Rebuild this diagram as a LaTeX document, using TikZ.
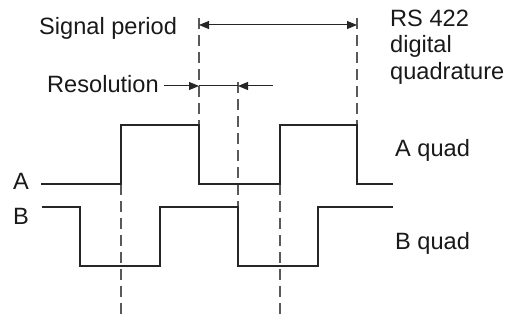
\documentclass[tikz,border=0pt]{standalone}
\usepackage{fontspec}
\setmainfont{Liberation Sans}
\usetikzlibrary{arrows.meta}
\begin{document}
\begin{tikzpicture}[x=1pt,y=-1pt,
 sig/.style={line width=2pt, line join=miter, color=black!85},
 guide/.style={line width=1.3pt, color=black!65, dash pattern=on 11pt off 6pt},
 dim/.style={line width=1pt, color=black!85},
 tipr/.style={-{Triangle[length=10pt,width=8pt]}},
 tipb/.style={{Triangle[length=10pt,width=8pt]}-{Triangle[length=10pt,width=8pt]}},
 lbl/.style={inner sep=0pt, anchor=base west, text=black!90, font=\fontsize{23.6}{26.5}\selectfont}]
\useasboundingbox (0,0) rectangle (507,320);
% labels
\node[lbl] (sp) at (39,35) {Signal period};
\node[lbl] (res) at (47,93) {Resolution};
\node[lbl] (rs1) at (390,27) {RS 422};
\node[lbl] (rs2) at (390,53) {digital};
\node[lbl] (rs3) at (390,80) {quadrature};
\node[lbl] (aq) at (395,157) {A quad};
\node[lbl] (bq) at (395,250) {B quad};
\node[lbl] (la) at (13,190) {A};
\node[lbl] (lb) at (13,225) {B};
% guide lines
\draw[guide] (199,18) -- (199,125);
\draw[guide] (238,82) -- (238,207);
\draw[guide] (357,18) -- (357,125);
\draw[guide] (121,184) -- (121,320);
\draw[guide] (280,184) -- (280,320);
% signals
\draw[sig] (41,184) -- (121,184) -- (121,125) -- (199,125) -- (199,184) -- (280,184) -- (280,125) -- (357,125) -- (357,184) -- (393,184);
\draw[sig] (42,207) -- (80,207) -- (80,266) -- (160,266) -- (160,207) -- (238,207) -- (238,266) -- (318,266) -- (318,207) -- (393,207);
% dimension arrows
\coordinate (p1) at (199,25);
\coordinate (p2) at (357,25);
\draw[dim,tipb] (p1) -- (p2);
\coordinate (r0) at (164,86);
\coordinate (r1) at (199,86);
\coordinate (r2) at (238,86);
\coordinate (r3) at (273,86);
\draw[dim,tipr] (r0) -- (r1);
\draw[dim] (r1) -- (r2);
\draw[dim,tipr] (r3) -- (r2);
\end{tikzpicture}
\end{document}
